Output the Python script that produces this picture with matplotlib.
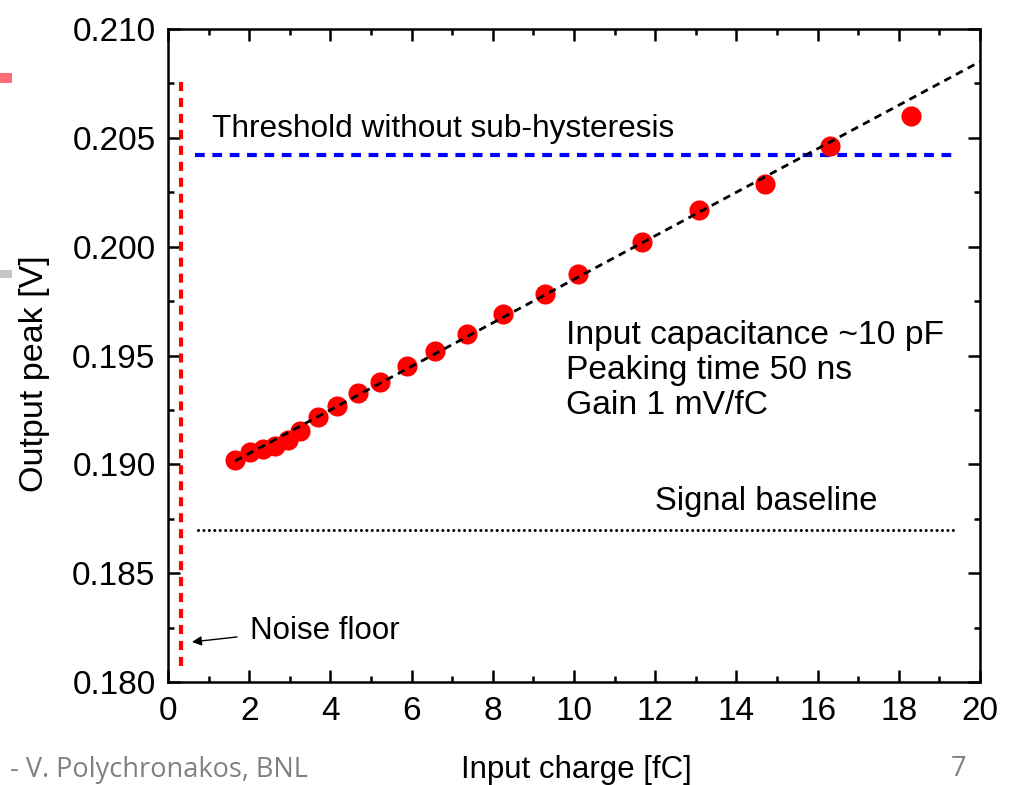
import matplotlib
matplotlib.use("Agg")
import matplotlib.pyplot as plt
from matplotlib.ticker import MultipleLocator, FormatStrFormatter
from matplotlib.patches import Rectangle

# ---------------- data ----------------
charge = [1.65, 2.02, 2.34, 2.64, 2.96, 3.25, 3.69, 4.16, 4.68, 5.22, 5.89,
          6.58, 7.36, 8.25, 9.29, 10.1, 11.67, 13.08, 14.70, 16.3, 18.3]
peak = [0.19020, 0.19057, 0.19070, 0.19085, 0.19112, 0.19153, 0.19218,
        0.19268, 0.19328, 0.19379, 0.19452, 0.19521, 0.19600, 0.19691,
        0.19783, 0.19875, 0.20022, 0.20169, 0.20289, 0.20463, 0.20601]
fit_x = [1.65, 20.0]
fit_y = [0.19015, 0.20850]
threshold_x = [0.67, 19.35]
threshold_y = 0.20422
baseline_x = [0.75, 19.4]
baseline_y = 0.18700
noise_x = 0.32
noise_y = [0.18074, 0.20770]
x_ticks = [0, 2, 4, 6, 8, 10, 12, 14, 16, 18, 20]
y_ticks = [0.180, 0.185, 0.190, 0.195, 0.200, 0.205, 0.210]
info_lines = ['Input capacitance ~10 pF', 'Peaking time 50 ns', 'Gain 1 mV/fC']

plt.rcParams['font.family'] = ['Liberation Sans', 'DejaVu Sans']
plt.rcParams['lines.scale_dashes'] = False

W, H = 1019, 785
fig = plt.figure(figsize=(W / 100, H / 100), dpi=100)
ax = fig.add_axes([168 / W, 1 - 682 / H, (980 - 168) / W, (682 - 29) / H])

ax.set_xlim(0, 20)
ax.set_ylim(0.180, 0.210)

# reference lines
ax.plot(threshold_x, [threshold_y] * 2, color='#0000ff', lw=3.0,
        dashes=(7.0, 5.5), solid_capstyle='butt')
ax.plot(baseline_x, [baseline_y] * 2, color='black', lw=2.2,
        dashes=(0.01, 3.9), dash_capstyle='round')
ax.plot([noise_x] * 2, noise_y, color='#ff0000', lw=3.0,
        dashes=(6.5, 5.0))

# data points and fit
ax.plot(charge, peak, 'o', color='#ff0000', ms=14.5, mec='none', zorder=3)
ax.plot(fit_x, fit_y, color='black', lw=2.0, dashes=(5.5, 4.0), zorder=4)

# text annotations
ax.text(1.08, 0.2054, 'Threshold without sub-hysteresis', fontsize=22.8,
        va='center', ha='left')
for i, line in enumerate(info_lines):
    ax.text(9.8, 0.19592 - i * 0.00161, line, fontsize=24.2, va='center',
            ha='left')
ax.text(12.0, 0.18828, 'Signal baseline', fontsize=23.6, va='center', ha='left')
ax.text(2.02, 0.18234, 'Noise floor', fontsize=22.5, va='center', ha='left')
ax.annotate('', xy=(0.59, 0.18184), xytext=(1.70, 0.18207),
            arrowprops=dict(arrowstyle='-|>', color='black', lw=1.0,
                            mutation_scale=14, shrinkA=0, shrinkB=0))

# axes styling
ax.xaxis.set_minor_locator(MultipleLocator(1))
ax.yaxis.set_minor_locator(MultipleLocator(0.0025))
ax.set_xticks(x_ticks)
ax.set_yticks(y_ticks)
ax.yaxis.set_major_formatter(FormatStrFormatter('%.3f'))
ax.tick_params(which='both', direction='in', top=True, right=True,
               width=1.8, labelsize=24)
ax.tick_params(which='major', length=8.5)
ax.tick_params(which='minor', length=4.5)
ax.tick_params(axis='x', pad=10)
ax.tick_params(axis='y', pad=9)
for s in ax.spines.values():
    s.set_linewidth(1.8)

# axis labels placed in figure pixels
fig.text(576 / W, 1 - 770 / H, 'Input charge [fC]', fontsize=22.5,
         ha='center', va='center')
fig.text(35 / W, 1 - 374 / H, 'Output peak [V]', fontsize=24.5,
         ha='center', va='center', rotation=90)

# slide remnants
fig.text(10 / W, 1.5 / H, '- V. Polychronakos, BNL', fontsize=19.5,
         color='#808080', family=['Open Sans', 'DejaVu Sans'],
         ha='left', va='bottom')
fig.text(958 / W, 1.5 / H, '7', fontsize=19.5, color='#808080',
         family=['Open Sans', 'DejaVu Sans'], ha='center', va='bottom')
fig.patches.append(Rectangle((0, 1 - 83 / H), 12 / W, 10 / H,
                             transform=fig.transFigure, color='#ff4a55',
                             alpha=0.8, lw=0))
fig.patches.append(Rectangle((0, 1 - 278 / H), 12 / W, 8 / H,
                             transform=fig.transFigure, color='#b0b0b0',
                             alpha=0.7, lw=0))

fig.savefig('out.png', dpi=100)
